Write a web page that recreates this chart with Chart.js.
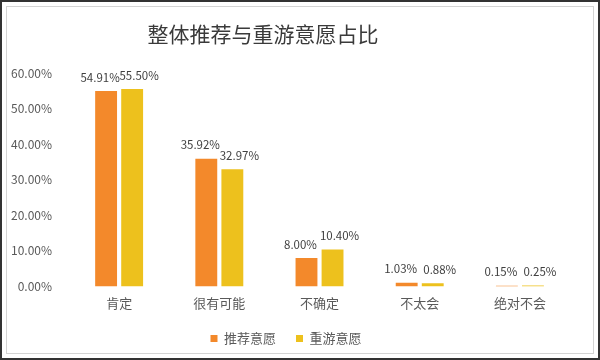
<!DOCTYPE html>
<html>
<head>
<meta charset="utf-8">
<script src="https://cdn.jsdelivr.net/npm/chart.js@4"></script>
<style>
  html, body { margin: 0; padding: 0; background: #fff; }
  #wrap { position: relative; width: 600px; height: 360px; box-sizing: border-box; border: 2px solid #333; }
  #inner { position: absolute; left: 4px; top: 4px; right: 4px; bottom: 4px; border: 1px solid #d4d4d4; }
  #title { position: absolute; left: 0; width: 522px; top: 16px; text-align: center;
           font-family: "Noto Sans CJK SC", sans-serif; font-size: 21px; color: #3a3a3a; }
  canvas { position: absolute; left: 0; top: 0; }
</style>
</head>
<body>
<div id="wrap">
  <div id="inner"></div>
  <canvas id="c" width="596" height="356"></canvas>
  <div id="title">整体推荐与重游意愿占比</div>
</div>
<script>
const categories = ["肯定", "很有可能", "不确定", "不太会", "绝对不会"];
const recommendValues = [54.91, 35.92, 8.00, 1.03, 0.15];
const revisitValues = [55.50, 32.97, 10.40, 0.88, 0.25];
const seriesNames = ["推荐意愿", "重游意愿"];
const yTicks = [0, 10, 20, 30, 40, 50, 60];

const FONT = '"Noto Sans CJK SC", sans-serif';

// Percent labels above each bar, nudged apart so neighbours don't collide
const valueLabels = {
  id: 'valueLabels',
  afterDatasetsDraw(chart) {
    const ctx = chart.ctx;
    const nudge = [-6, 7];
    ctx.save();
    ctx.font = '11.5px ' + FONT;
    ctx.fillStyle = '#404040';
    ctx.textAlign = 'center';
    ctx.textBaseline = 'bottom';
    chart.data.datasets.forEach((ds, i) => {
      chart.getDatasetMeta(i).data.forEach((bar, j) => {
        ctx.fillText(ds.data[j].toFixed(2) + '%', bar.x + nudge[i], bar.y - 8);
      });
    });
    ctx.restore();
  }
};

new Chart(document.getElementById('c'), {
  type: 'bar',
  data: {
    labels: categories,
    datasets: [
      { label: seriesNames[0], data: recommendValues, backgroundColor: '#F3892B' },
      { label: seriesNames[1], data: revisitValues, backgroundColor: '#EDC11D' }
    ]
  },
  options: {
    responsive: false,
    animation: false,
    layout: { padding: { top: 71, left: 0, right: 28, bottom: 3 } },
    datasets: { bar: { categoryPercentage: 0.52, barPercentage: 0.84 } },
    scales: {
      x: {
        grid: { display: false },
        border: { display: false },
        ticks: { color: '#595959', font: { family: FONT, size: 13 }, padding: 1 }
      },
      y: {
        min: 0, max: 60,
        afterBuildTicks(axis) { axis.ticks = yTicks.map(v => ({ value: v })); },
        grid: { display: false },
        border: { display: false },
        ticks: {
          color: '#595959', font: { family: FONT, size: 12 }, padding: 9,
          callback: v => v.toFixed(2) + '%'
        }
      }
    },
    plugins: {
      legend: {
        position: 'bottom',
        labels: { boxWidth: 7, boxHeight: 7, color: '#595959', font: { family: FONT, size: 13 }, padding: 20 }
      },
      tooltip: { enabled: false }
    }
  },
  plugins: [valueLabels]
});
</script>
</body>
</html>
